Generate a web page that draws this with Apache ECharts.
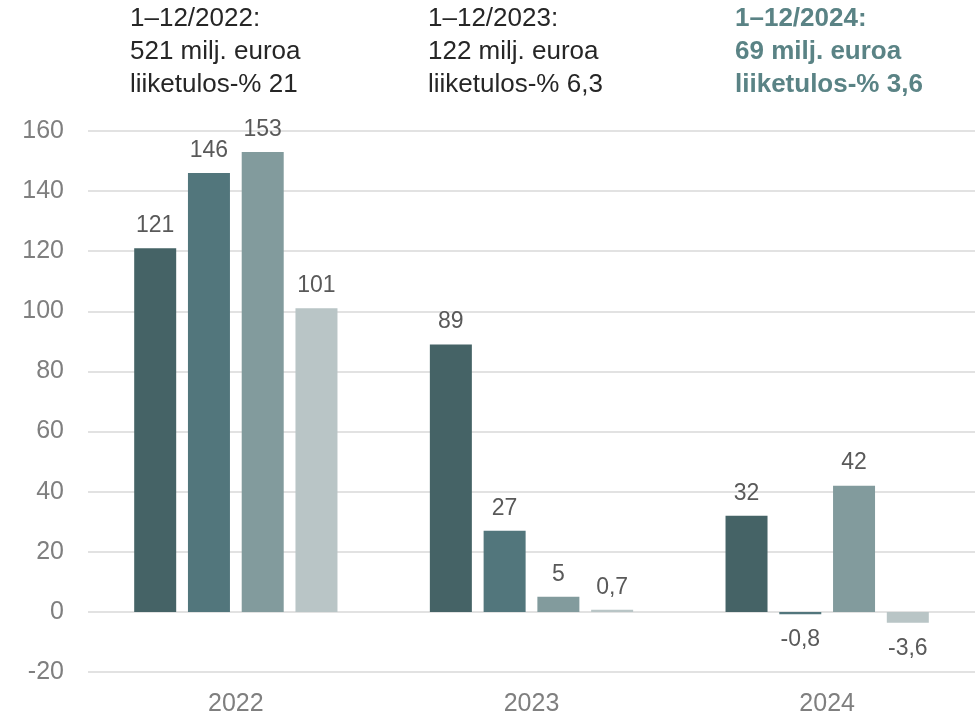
<!DOCTYPE html>
<html>
<head>
<meta charset="utf-8">
<title>Liiketulos</title>
<script src="https://cdn.jsdelivr.net/npm/echarts@6/dist/echarts.min.js"></script>
<style>
  html, body { margin: 0; padding: 0; background: #fff; }
  #chart { width: 975px; height: 717px; }
</style>
</head>
<body>
<div id="chart"></div>
<script>
var years = ['2022', '2023', '2024'];
var quarters = ['Q1', 'Q2', 'Q3', 'Q4'];
var q1 = [121, 89, 32];
var q2 = [146, 27, -0.8];
var q3 = [153, 5, 42];
var q4 = [101, 0.7, -3.6];
var notes = [
  ['1–12/2022:', '521 milj. euroa', 'liiketulos-% 21'],
  ['1–12/2023:', '122 milj. euroa', 'liiketulos-% 6,3'],
  ['1–12/2024:', '69 milj. euroa', 'liiketulos-% 3,6']
];

var colors = ['#456366', '#52767c', '#829b9d', '#b9c5c6'];
var font = 'Liberation Sans, Arial, sans-serif';

function makeSeries(name, values, i) {
  return {
    name: name,
    type: 'bar',
    barWidth: 42,
    barGap: '28%',
    itemStyle: { color: colors[i] },
    label: {
      show: true,
      fontFamily: font,
      fontSize: 23,
      color: '#595959',
      formatter: function (p) { return String(p.value).replace('.', ','); }
    },
    data: values.map(function (v) {
      return {
        value: v,
        label: v < 0 ? { position: 'bottom', distance: 14 } : { position: 'top', distance: 11 }
      };
    })
  };
}

var noteX = [130, 428, 735];
var graphics = notes.map(function (lines, i) {
  return {
    type: 'text',
    left: noteX[i],
    top: 2,
    style: {
      text: lines.join('\n'),
      font: (i === 2 ? 'bold ' : '') + '26px ' + font,
      fill: i === 2 ? '#5a8385' : '#262626',
      lineHeight: 33
    }
  };
});

var chart = echarts.init(document.getElementById('chart'));
chart.setOption({
  animation: false,
  grid: { left: 88, right: -5, top: 131, bottom: 45 },
  graphic: graphics,
  xAxis: {
    type: 'category',
    data: years,
    axisLine: { show: false },
    axisTick: { show: false },
    axisLabel: { fontFamily: font, fontSize: 25, color: '#7f7f7f', margin: 20 }
  },
  yAxis: {
    type: 'value',
    min: -20,
    max: 160,
    interval: 20,
    axisLine: { show: false },
    axisTick: { show: false },
    axisLabel: { fontFamily: font, fontSize: 25, color: '#7f7f7f', margin: 24 },
    splitLine: { lineStyle: { color: '#d9d9d9', width: 1.5 } }
  },
  series: [
    makeSeries(quarters[0], q1, 0),
    makeSeries(quarters[1], q2, 1),
    makeSeries(quarters[2], q3, 2),
    makeSeries(quarters[3], q4, 3)
  ]
});
</script>
</body>
</html>
